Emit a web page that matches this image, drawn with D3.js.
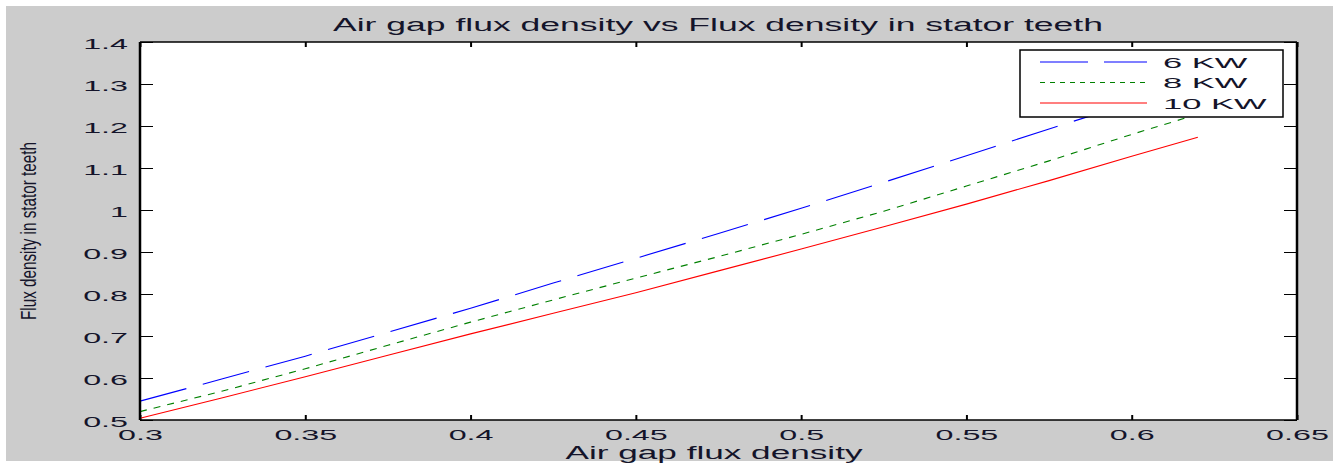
<!DOCTYPE html>
<html>
<head>
<meta charset="utf-8">
<script src="https://cdn.jsdelivr.net/npm/d3@7"></script>
<style>
  body { margin: 0; background: #fff; }
  svg { display: block; }
  text { font-family: "Liberation Sans", Arial, sans-serif; fill: #14142a; }
</style>
</head>
<body>
<svg width="1343" height="463"></svg>
<script>
// values
const airGap = [0.3, 0.325, 0.35, 0.375, 0.4, 0.425, 0.45, 0.475, 0.5, 0.525, 0.55, 0.575, 0.6, 0.62];
const kw6  = [0.545, 0.598, 0.652, 0.709, 0.766, 0.826, 0.885, 0.944, 1.004, 1.066, 1.129, 1.193, 1.255, 1.302];
const kw8  = [0.520, 0.569, 0.622, 0.678, 0.733, 0.786, 0.838, 0.889, 0.942, 0.997, 1.057, 1.117, 1.180, 1.228];
const kw10 = [0.504, 0.553, 0.603, 0.654, 0.705, 0.754, 0.803, 0.855, 0.907, 0.960, 1.014, 1.070, 1.128, 1.173];
const seriesNames = ["6 KW", "8 KW", "10 KW"];
const xTicks = [0.3, 0.35, 0.4, 0.45, 0.5, 0.55, 0.6, 0.65];
const yTicks = [0.5, 0.6, 0.7, 0.8, 0.9, 1, 1.1, 1.2, 1.3, 1.4];

const series = [
  { name: seriesNames[0], values: kw6,  color: "#0000ff", dash: "48,17", legendDash: "48,16" },
  { name: seriesNames[1], values: kw8,  color: "#008000", dash: "7,7",   legendDash: "5,5" },
  { name: seriesNames[2], values: kw10, color: "#ff0000", dash: null,    legendDash: null }
];

const svg = d3.select("svg");

// figure background
svg.append("rect").attr("x", 6).attr("y", 6).attr("width", 1327).attr("height", 455).attr("fill", "#cccccc");

const xScale = d3.scaleLinear().domain([0.3, 0.65]).range([140, 1297]);
const yScale = d3.scaleLinear().domain([0.5, 1.4]).range([420, 42]);

const x0 = xScale.range()[0], x1 = xScale.range()[1];
const y0 = yScale.range()[1], y1 = yScale.range()[0];

svg.append("rect").attr("x", x0).attr("y", y0).attr("width", x1 - x0).attr("height", y1 - y0).attr("fill", "#fff");

const fmt = d => String(+d.toFixed(2));

// bottom axis with labels
const xAxisG = svg.append("g").attr("transform", `translate(0,${y1})`)
  .call(d3.axisBottom(xScale).tickValues(xTicks).tickSizeInner(-5).tickSizeOuter(0).tickFormat(fmt));
xAxisG.select(".domain").remove();
xAxisG.selectAll("line").attr("stroke", "#000").attr("stroke-width", 2);
xAxisG.selectAll("text")
  .attr("y", 0).attr("dy", null)
  .attr("transform", "translate(0,20) scale(2.15,1)")
  .attr("font-size", 15).attr("fill", "#14142a");

// top axis, ticks only
const xTopG = svg.append("g").attr("transform", `translate(0,${y0})`)
  .call(d3.axisTop(xScale).tickValues(xTicks).tickSizeInner(-5).tickSizeOuter(0).tickFormat(""));
xTopG.select(".domain").remove();
xTopG.selectAll("line").attr("stroke", "#000").attr("stroke-width", 2);

// left axis with labels
const yAxisG = svg.append("g").attr("transform", `translate(${x0},0)`)
  .call(d3.axisLeft(yScale).tickValues(yTicks).tickSizeInner(-13).tickSizeOuter(0).tickFormat(fmt));
yAxisG.select(".domain").remove();
yAxisG.selectAll("line").attr("stroke", "#000").attr("stroke-width", 1);
yAxisG.selectAll("text")
  .attr("x", 0).attr("dy", null)
  .attr("transform", "translate(-12,6) scale(2.15,1)")
  .attr("font-size", 15).attr("fill", "#14142a");

// right axis, ticks only
const yRightG = svg.append("g").attr("transform", `translate(${x1},0)`)
  .call(d3.axisRight(yScale).tickValues(yTicks).tickSizeInner(-13).tickSizeOuter(0).tickFormat(""));
yRightG.select(".domain").remove();
yRightG.selectAll("line").attr("stroke", "#000").attr("stroke-width", 1);

// curves
const line = d3.line()
  .x((d, i) => xScale(airGap[i]))
  .y(d => yScale(d));

series.forEach(s => {
  svg.append("path")
    .attr("d", line(s.values))
    .attr("fill", "none")
    .attr("stroke", s.color)
    .attr("stroke-width", 1.1)
    .attr("stroke-dasharray", s.dash);
});

// axes box
svg.append("line").attr("x1", x0).attr("x2", x1).attr("y1", y0).attr("y2", y0).attr("stroke", "#000").attr("stroke-width", 1.5);
svg.append("line").attr("x1", x0).attr("x2", x1).attr("y1", y1).attr("y2", y1).attr("stroke", "#000").attr("stroke-width", 1.5);
svg.append("line").attr("x1", x0).attr("x2", x0).attr("y1", y0).attr("y2", y1).attr("stroke", "#000").attr("stroke-width", 2.5);
svg.append("line").attr("x1", x1).attr("x2", x1).attr("y1", y0).attr("y2", y1).attr("stroke", "#000").attr("stroke-width", 2.5);

// legend
const legend = svg.append("g");
legend.append("rect").attr("x", 1020).attr("y", 50).attr("width", 263).attr("height", 67)
  .attr("fill", "#fff").attr("stroke", "#000").attr("stroke-width", 1.5);
series.forEach((s, i) => {
  const ry = 62 + i * 20.5;
  legend.append("line").attr("x1", 1040).attr("x2", 1147).attr("y1", ry).attr("y2", ry)
    .attr("stroke", s.color).attr("stroke-width", 1.1).attr("stroke-dasharray", s.legendDash);
  legend.append("text").attr("transform", `translate(1163,${ry + 5.5}) scale(2.3,1)`)
    .attr("font-size", 15).text(s.name);
});

// title and axis labels
svg.append("text").attr("x", 718).attr("y", 31).attr("text-anchor", "middle")
  .attr("font-size", 18).attr("textLength", 770).attr("lengthAdjust", "spacingAndGlyphs")
  .text("Air gap flux density vs Flux density in stator teeth");

svg.append("text").attr("x", 714).attr("y", 459).attr("text-anchor", "middle")
  .attr("font-size", 18).attr("textLength", 297).attr("lengthAdjust", "spacingAndGlyphs")
  .text("Air gap flux density");

svg.append("text").attr("transform", "translate(36,231) rotate(-90) scale(1,1.45)").attr("text-anchor", "middle")
  .attr("font-size", 15).attr("textLength", 178).attr("lengthAdjust", "spacingAndGlyphs")
  .text("Flux density in stator teeth");
</script>
</body>
</html>
